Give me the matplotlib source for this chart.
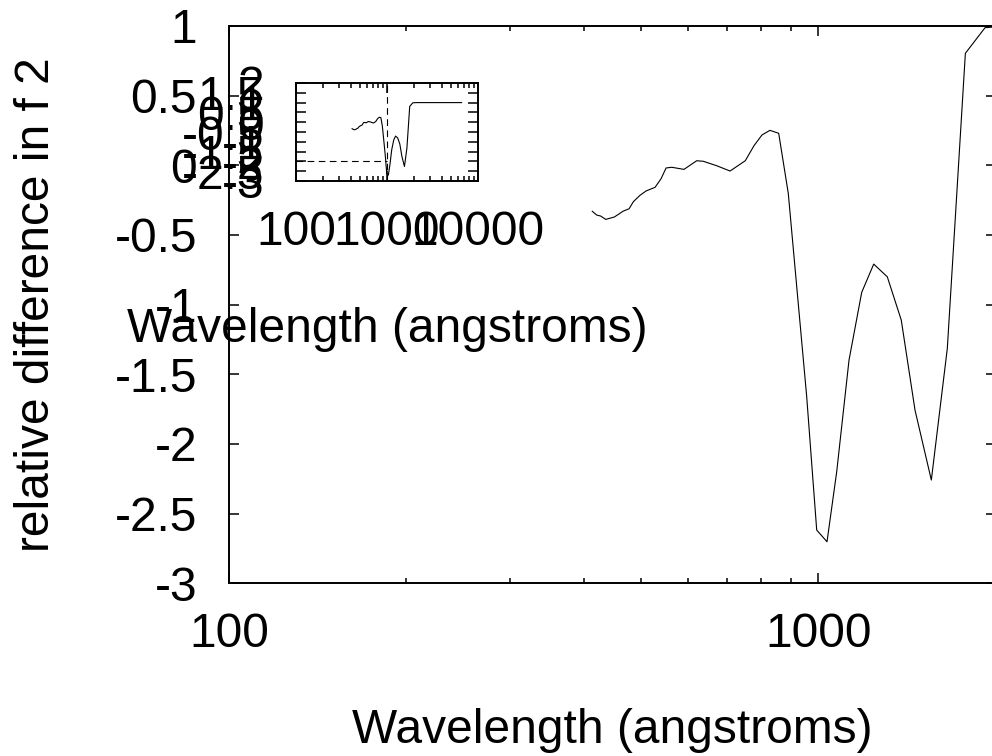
import matplotlib
matplotlib.use("Agg")
import matplotlib.pyplot as plt
from matplotlib.ticker import LogLocator, MultipleLocator, FuncFormatter, NullFormatter

plt.rcParams['font.family'] = ['Liberation Sans', 'DejaVu Sans']
plt.rcParams['axes.unicode_minus'] = False

# relative difference in f2 against wavelength (angstroms)
wavelength = [413.5, 420.7, 427.3, 435.8, 450.7, 466.9, 477.4, 485.5, 498.3, 510.2,
              528.4, 541.0, 551.7, 564.0, 591.7, 621.8, 638.1, 672.4, 708.3, 751.8,
              777.8, 802.5, 827.9, 856.6, 889.3, 955.7, 993.8, 1034.6, 1074.5, 1127.5,
              1184.8, 1241.7, 1309.4, 1382.9, 1459.2, 1555.3, 1655.5, 1776.5, 1918.5,
              2100, 3000, 4500, 6600]
rel_diff = [-0.330, -0.357, -0.364, -0.388, -0.371, -0.328, -0.312, -0.261, -0.215, -0.184,
            -0.158, -0.096, -0.019, -0.014, -0.029, 0.033, 0.029, -0.003, -0.041, 0.033,
            0.141, 0.218, 0.251, 0.230, -0.201, -1.661, -2.618, -2.702, -2.200, -1.398,
            -0.912, -0.709, -0.800, -1.111, -1.757, -2.259, -1.314, 0.804, 0.988,
            1.0, 1.0, 1.0, 1.0]

# dashed guides on the small panel
guide_x = 1000
guide_y = -2

W, H = 992, 756
FS = 34.5


def rect(x0, y0, x1, y1):
    # pixel box (top-left origin) -> figure fraction
    return [x0 / W, 1 - y1 / H, (x1 - x0) / W, (y1 - y0) / H]


fmt = FuncFormatter(lambda v, p: "%g" % v)


def style(ax):
    ax.set_xscale('log')
    ax.tick_params(which='both', direction='in', top=True, right=True,
                   labelsize=FS, width=1.1)
    ax.tick_params(which='major', length=7.2)
    ax.tick_params(which='minor', length=3.6)
    ax.tick_params(axis='y', pad=23)
    ax.tick_params(axis='x', pad=21)
    ax.xaxis.set_major_locator(LogLocator(base=10))
    ax.xaxis.set_minor_locator(LogLocator(base=10, subs=range(2, 10)))
    ax.xaxis.set_major_formatter(fmt)
    ax.xaxis.set_minor_formatter(NullFormatter())
    ax.yaxis.set_major_locator(MultipleLocator(0.5))
    ax.yaxis.set_major_formatter(fmt)
    for s in ax.spines.values():
        s.set_linewidth(1.4)


fig = plt.figure(figsize=(W / 100, H / 100), dpi=100)

ax = fig.add_axes(rect(229, 26, 995.7, 583.3))
style(ax)
ax.plot(wavelength, rel_diff, color='black', lw=0.8)
ax.set_xlim(100, 2000)
ax.set_ylim(-3, 1)
ax.set_xlabel('Wavelength (angstroms)', fontsize=FS, va='baseline')
ax.xaxis.set_label_coords(0.5, (583.3 - 743.3) / 557.3)
ax.set_ylabel('relative difference in f 2', fontsize=FS, va='baseline')
ax.yaxis.set_label_coords((49 - 229) / 766.7, 0.5)

ins = fig.add_axes(rect(296, 83, 478, 181))
ins.patch.set_alpha(0)
style(ins)
ins.plot(wavelength, rel_diff, color='black', lw=0.8)
ins.plot([guide_x, guide_x], [-3, 2], color='black', lw=0.8, dashes=(6, 4))
ins.plot([100, guide_x], [guide_y, guide_y], color='black', lw=0.8, dashes=(6, 4))
ins.set_xlim(100, 10000)
ins.set_ylim(-3, 2)
ins.set_xlabel('Wavelength (angstroms)', fontsize=FS, va='baseline')
ins.xaxis.set_label_coords(0.5, (181 - 341.5) / 98)

fig.savefig('out.png', dpi=100)
